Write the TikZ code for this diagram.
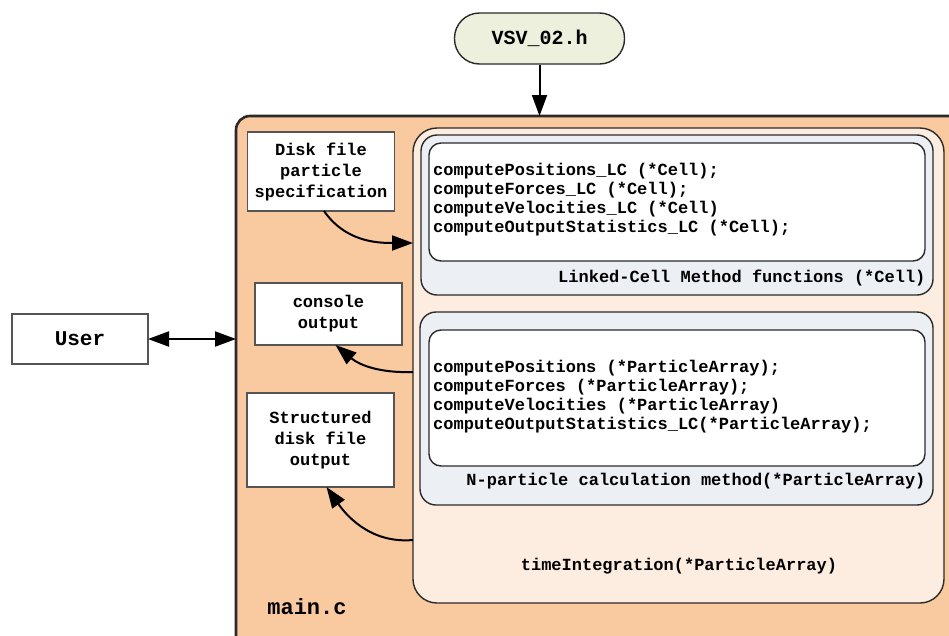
\documentclass[tikz,border=0pt]{standalone}
\usepackage{fontspec}
\setmonofont{Liberation Mono}
\usetikzlibrary{arrows.meta}
\definecolor{peach}{HTML}{F9C9A0}
\definecolor{lightpeach}{HTML}{FCEDE0}
\definecolor{grayblue}{HTML}{ECEFF4}
\definecolor{paleolive}{HTML}{EDF0DC}
\definecolor{edge}{HTML}{2A2A2A}
\tikzset{
  txt/.style={font=\ttfamily\bfseries\fontsize{17}{21}\selectfont, text=black},
  codetxt/.style={font=\ttfamily\bfseries\fontsize{17}{19}\selectfont, text=black, align=left, anchor=west, inner sep=0pt},
  whitebox/.style={draw=edge!80, fill=white, line width=1.3pt, inner sep=0pt, outer sep=0pt},
  mainbox/.style={draw=edge, fill=peach, line width=2.6pt, rounded corners=14pt, inner sep=0pt, outer sep=0pt},
  tibox/.style={draw=edge, fill=lightpeach, line width=1.4pt, rounded corners=24pt, inner sep=0pt, outer sep=0pt},
  grouppanel/.style={draw=edge, fill=grayblue, line width=1.4pt, rounded corners=16pt, inner sep=0pt, outer sep=0pt},
  codepanel/.style={draw=edge, fill=white, line width=1.4pt, rounded corners=12pt, inner sep=0pt, outer sep=0pt},
  conn/.style={line width=2pt, draw=black, -{Triangle[length=21pt,width=15pt]}},
}
\begin{document}
\begin{tikzpicture}[x=1pt,y=-1pt]
\useasboundingbox (0,0) rectangle (949,635);
% main.c
\node[mainbox, minimum width=744pt, minimum height=554pt] (main) at (608,393) {};
\node[txt, font=\ttfamily\bfseries\fontsize{22}{24}\selectfont] (mainlbl) at (307,607) {main.c};
% header
\node[draw=edge, fill=paleolive, line width=1.4pt, rounded corners=25pt, minimum width=170pt, minimum height=51pt, inner sep=0pt, txt, font=\ttfamily\bfseries\fontsize{20}{22}\selectfont] (vsv) at (539.5,38.5) {VSV\_02.h};
% user
\node[whitebox, minimum width=136pt, minimum height=50pt, txt, font=\ttfamily\bfseries\fontsize{21}{23}\selectfont] (user) at (80,339) {User};
% timeIntegration box
\node[tibox, minimum width=531pt, minimum height=475pt] (ti) at (678.5,365.5) {};
\node[txt] (tilbl) at (679,566) {timeIntegration(*ParticleArray)};
% Linked-cell
\node[grouppanel, minimum width=512pt, minimum height=160pt] (lc) at (677,215) {};
\node[codepanel, minimum width=496pt, minimum height=118pt] (lccode) at (677,202) {};
\node[codetxt] (lctext) at (433,200) {computePositions\_LC (*Cell);\\computeForces\_LC (*Cell);\\computeVelocities\_LC (*Cell)\\computeOutputStatistics\_LC (*Cell);};
\node[txt, anchor=east] (lclbl) at (929,278) {Linked-Cell Method functions (*Cell)};
% N-particle
\node[grouppanel, minimum width=513pt, minimum height=193pt] (np) at (676.5,408.5) {};
\node[codepanel, minimum width=496pt, minimum height=136pt] (npcode) at (677,398) {};
\node[codetxt] (nptext) at (433,397) {computePositions (*ParticleArray);\\computeForces (*ParticleArray);\\computeVelocities (*ParticleArray)\\computeOutputStatistics\_LC(*ParticleArray);};
\node[txt, anchor=east] (nplbl) at (929,481) {N-particle calculation method(*ParticleArray)};
% left boxes
\node[whitebox, minimum width=147pt, minimum height=79pt, txt, align=center] (disk) at (321,171.5) {Disk file\\particle\\specification};
\node[whitebox, minimum width=147pt, minimum height=62pt, txt, align=center] (console) at (328.5,314) {console\\output};
\node[whitebox, minimum width=147pt, minimum height=94pt, txt, align=center] (struct) at (320.5,440) {Structured\\disk file\\output};
% connectors
\draw[conn] (vsv.south) -- (vsv.south |- main.north);
\draw[line width=2pt, {Triangle[length=21pt,width=15pt]}-{Triangle[length=21pt,width=15pt]}] (user.east) -- (user.east -| main.west);
\coordinate (din) at (ti.west |- 0,243);
\coordinate (cout) at (ti.west |- 0,372);
\coordinate (sout) at (ti.west |- 0,540);
\draw[conn] ([xshift=3pt]disk.south) to[out=-55, in=180] (din);
\draw[conn] (cout) to[out=182, in=-40] ([xshift=7pt]console.south);
\draw[conn] (sout) to[out=185, in=-55] ([xshift=6pt]struct.south);
\end{tikzpicture}
\end{document}
